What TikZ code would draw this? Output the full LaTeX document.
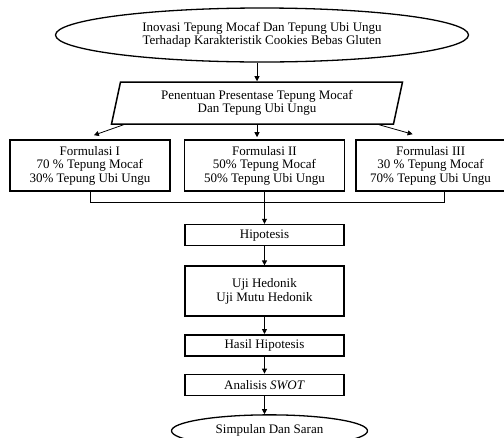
\documentclass[tikz,border=0pt]{standalone}
\usepackage{fontspec}
\setmainfont{Liberation Serif}
\usetikzlibrary{positioning, arrows.meta, shapes.geometric, calc}

\begin{document}
\begin{tikzpicture}[
  x=1pt, y=-1pt,
  every node/.style={font=\fontsize{13}{13.5}\selectfont, align=center, inner sep=2pt},
  kotak/.style={draw, line width=1.6pt, minimum width=#1, minimum height=21pt},
  kotak/.default=159pt,
  oval/.style={draw, ellipse, line width=1.3pt},
  jajar/.style={draw, trapezium, trapezium left angle=73, trapezium right angle=107, trapezium stretches body, line width=1.5pt},
  garis/.style={line width=0.8pt},
  panah/.style={-{Triangle[length=5pt, width=5pt]}, line width=0.8pt},
]
  \useasboundingbox (0,0) rectangle (504,437);

  % Judul penelitian
  \node[oval, minimum width=413pt, minimum height=54pt] (judul) at (262,35) {Inovasi Tepung Mocaf Dan Tepung Ubi Ungu\\Terhadap Karakteristik Cookies Bebas Gluten};

  % Penentuan presentase
  \node[jajar, minimum width=291pt, minimum height=42pt] (tentu) at (257,103) {Penentuan Presentase Tepung Mocaf\\Dan Tepung Ubi Ungu};

  % Formulasi
  \node[kotak=160pt, minimum height=51pt] (form2) at (264.5,165.5) {Formulasi II\\50\% Tepung Mocaf\\50\% Tepung Ubi Ungu};
  \node[kotak=160pt, minimum height=51pt, left=13pt of form2] (form1) {Formulasi I\\70 \% Tepung Mocaf\\30\% Tepung Ubi Ungu};
  \node[kotak=149pt, minimum height=51pt, right=10pt of form2] (form3) {Formulasi III\\30 \% Tepung Mocaf\\70\% Tepung Ubi Ungu};

  % Alur pengujian
  \node[kotak, below=32pt of form2] (hipo) {Hipotesis};
  \node[kotak, minimum height=50pt, below=19pt of hipo] (uji) {Uji Hedonik\\Uji Mutu Hedonik};
  \node[kotak, below=17pt of uji] (hasil) {Hasil Hipotesis};
  \node[kotak, below=17pt of hasil] (swot) {Analisis \textit{SWOT}};
  \node[oval, minimum width=196pt, minimum height=32pt, below=18pt of swot, xshift=5pt] (simpul) {Simpulan Dan Saran};

  % Panah
  \draw[panah] (tentu.north |- judul.south) -- (tentu.north);
  \draw[panah] ([xshift=13pt]tentu.bottom left corner) -- ([xshift=4pt,yshift=4pt]form1.north);
  \draw[panah] (tentu.south) -- ([yshift=2pt]tentu.south |- form2.north);
  \draw[panah] ([xshift=-15pt]tentu.bottom right corner) -- ([xshift=-18pt,yshift=5pt]form3.north);

  \coordinate[below=11pt of form2] (gabung);
  \draw[garis] (form1.south) |- (gabung) -| ([xshift=14pt]form3.south);
  \draw[panah] (form2.south) -- (hipo);
  \draw[panah] (hipo) -- (uji);
  \draw[panah] (uji) -- (hasil);
  \draw[panah] (hasil) -- (swot);
  \draw[panah] (swot.south) -- (swot.south |- simpul.north);
\end{tikzpicture}
\end{document}
